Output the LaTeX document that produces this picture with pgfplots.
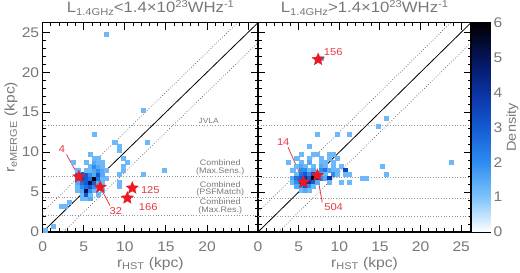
\documentclass[border=0pt]{standalone}
\usepackage{fontspec}
\setmainfont{Liberation Sans}[FakeStretch=1.12]
\usepackage{pgfplots}
\usepackage{pgfplotstable}
\pgfplotsset{compat=1.18}
\definecolor{txtgray}{RGB}{120,120,120}
\definecolor{linegray}{RGB}{150,150,150}
\definecolor{starred}{RGB}{235,25,35}
\definecolor{lblred}{RGB}{230,55,65}
\newcommand{\tsup}[1]{\raisebox{5bp}{\fontsize{10}{10}\selectfont #1}}
\newcommand{\tsub}[1]{\raisebox{-2.5bp}{\fontsize{10}{10}\selectfont #1}}

\pgfdeclareplotmark{fstar}{%
 \pgfpathmoveto{\pgfpointpolar{90}{\pgfplotmarksize}}%
 \pgfpathlineto{\pgfpointpolar{126}{0.45\pgfplotmarksize}}%
 \pgfpathlineto{\pgfpointpolar{162}{\pgfplotmarksize}}%
 \pgfpathlineto{\pgfpointpolar{198}{0.45\pgfplotmarksize}}%
 \pgfpathlineto{\pgfpointpolar{234}{\pgfplotmarksize}}%
 \pgfpathlineto{\pgfpointpolar{270}{0.45\pgfplotmarksize}}%
 \pgfpathlineto{\pgfpointpolar{306}{\pgfplotmarksize}}%
 \pgfpathlineto{\pgfpointpolar{342}{0.45\pgfplotmarksize}}%
 \pgfpathlineto{\pgfpointpolar{18}{\pgfplotmarksize}}%
 \pgfpathlineto{\pgfpointpolar{54}{0.45\pgfplotmarksize}}%
 \pgfpathclose
 \pgfusepathqfillstroke
}

\pgfplotsset{
 colormap={idl}{rgb255(0)=(255,255,255) rgb255(1)=(125,195,250) rgb255(2)=(45,140,240) rgb255(3)=(20,90,210) rgb255(4)=(10,50,160) rgb255(5)=(5,20,90) rgb255(6)=(0,0,0)},
 mypanel/.style={
  scale only axis, height=209.3bp,
  xmin=0, xmax=26.2, ymin=0, ymax=26.2,
  axis line style={line width=1.5bp},
  tick align=inside, major tick length=7bp, minor tick length=3.5bp,
  every tick/.style={black, line width=1bp},
  minor tick num=4,
  xtick={0,5,...,25}, ytick={0,5,...,25},
  /pgf/number format/assume math mode=true,
  tick label style={font=\fontsize{14}{14}\selectfont, text=txtgray},
  xticklabel style={yshift=-6bp},
  label style={font=\fontsize{14}{14}\selectfont, text=txtgray},
  xlabel={r\textsubscript{HST} (kpc)},
  xlabel style={at={(axis description cs:0.5,0)}, anchor=center, yshift=-32bp},
  title style={font=\fontsize{15}{15}\selectfont, text=txtgray, at={(axis description cs:0.5,1)}, anchor=base, inner sep=0pt, yshift=4bp},
  point meta min=0, point meta max=6,
  colormap name=idl,
 },
 mycells/.style={only marks, scatter, scatter src=\thisrow{c}, mark=square*, mark size=2.05bp,
  scatter/use mapped color={draw=mapped color, fill=mapped color}, mark options={line width=0.2pt}},
 myhline/.style={dotted, linegray, line width=0.7bp},
 mydline/.style={dotted, black!65, line width=0.7bp},
 mystars/.style={only marks, mark=fstar, mark size=6.5bp, color=starred, mark options={fill=starred, draw=starred, line width=0.3bp}},
 myann/.style={lblred, line width=0.8bp},
}

\pgfplotstableread{
x y c
0.25 0.25 1.2
1.25 0.75 1.2
2.25 3.25 1.2
2.75 3.25 1.2
3.25 3.75 1.2
4.75 4.25 1.2
5.25 4.25 1.2
5.75 4.25 1.5
4.75 4.75 1.2
5.25 4.75 3
5.75 4.75 1.2
6.75 4.75 1.2
4.25 5.25 1.2
4.75 5.25 1.5
5.25 5.25 5
5.75 5.25 2
6.25 5.25 1.2
7.25 5.25 1.2
4.25 5.75 1.2
4.75 5.75 2
5.25 5.75 2.5
5.75 5.75 3
6.25 5.75 2
6.75 5.75 1.5
9.25 5.75 1.2
4.25 6.25 1.5
4.75 6.25 2.5
5.25 6.25 3
5.75 6.25 5
6.25 6.25 3
6.75 6.25 1.5
7.25 6.25 1.2
9.25 6.25 1.2
4.25 6.75 2
4.75 6.75 3.5
5.25 6.75 3
5.75 6.75 2.5
6.25 6.75 6
6.75 6.75 2.5
7.25 6.75 1.2
7.75 6.75 1.2
4.25 7.25 2.5
4.75 7.25 3
5.25 7.25 3
5.75 7.25 2
6.25 7.25 1.5
6.75 7.25 3
7.25 7.25 1.5
9.25 7.25 1.2
12.25 7.25 1.2
4.25 7.75 1.2
5.25 7.75 1.2
5.75 7.75 1.2
6.25 7.75 1.5
6.75 7.75 2
7.25 7.75 1.5
7.75 7.75 1.2
9.75 7.75 1.2
14.75 7.75 1.2
5.75 8.25 1.2
6.25 8.25 2
6.75 8.25 1.5
7.25 8.25 1.2
9.75 8.25 1.2
3.75 8.75 1.2
5.25 8.75 1.2
6.25 8.75 1.5
6.75 8.75 1.2
7.25 8.75 1.2
10.25 8.75 1.2
6.25 9.25 1.2
6.75 9.25 1.2
9.75 9.25 1.2
5.75 9.75 1.2
9.25 10.25 1.2
9.25 10.75 1.2
8.75 11.25 1.2
12.75 11.25 1.2
6.25 12.25 1.2
12.25 15.25 1.2
7.75 24.75 1.2
}\lowtab

\pgfplotstableread{
x y c
7.75 21.75 1.2
7.25 12.25 1.2
9.75 12.25 1.2
11.25 12.25 1.2
14.75 13.25 1.2
15.75 14.25 1.2
23.75 8.75 1.2
15.25 8.25 1.2
15.75 7.25 1.2
12.75 6.75 1.2
13.25 6.75 1.2
6.25 10.75 1.2
5.25 9.75 1.2
6.75 9.75 1.2
7.25 9.75 1.2
8.75 9.75 1.2
9.25 9.75 1.2
4.75 9.25 1.2
6.25 9.25 1.2
7.75 9.25 1.2
8.75 9.25 1.2
9.75 9.25 1.2
3.75 8.75 1.2
5.25 8.75 1.2
6.25 8.75 1.5
7.75 8.75 1.2
8.25 8.75 1.2
9.25 8.75 1.2
4.75 8.25 1.2
5.25 8.25 1.5
5.75 8.25 1.2
6.75 8.25 1.2
7.75 8.25 1.5
8.25 8.25 1.2
9.25 8.25 1.2
10.25 8.25 1.2
4.25 7.75 1.2
5.25 7.75 2
5.75 7.75 2
6.25 7.75 1.2
6.75 7.75 1.5
7.75 7.75 2
8.25 7.75 2.5
8.75 7.75 1.5
9.25 7.75 1.2
9.75 7.75 1.2
10.75 7.75 3.5
4.75 7.25 1.2
5.25 7.25 2.5
5.75 7.25 3
6.25 7.25 2
6.75 7.25 3.5
7.25 7.25 2
7.75 7.25 1.5
8.25 7.25 1.2
9.25 7.25 2
9.75 7.25 1.2
10.75 7.25 1.2
11.25 7.25 1.2
4.25 6.75 1.5
4.75 6.75 2.5
5.25 6.75 3
5.75 6.75 4
6.25 6.75 3
6.75 6.75 6
7.25 6.75 4
7.75 6.75 2
8.25 6.75 1.5
8.75 6.75 4
4.25 6.25 1.2
4.75 6.25 2
5.25 6.25 3.5
5.75 6.25 5
6.25 6.25 4
6.75 6.25 3
7.25 6.25 1.5
8.75 6.25 1.2
10.25 6.25 1.2
11.25 6.25 1.2
4.75 5.75 1.5
5.25 5.75 2
5.75 5.75 3
6.25 5.75 2
6.75 5.75 1.2
5.25 5.25 1.2
5.75 5.25 1.5
6.25 5.25 1.2
}\hightab

\begin{document}
\begin{tikzpicture}
% ---------------- left panel ----------------
\begin{axis}[mypanel, at={(42.7bp,41bp)}, anchor=south west, width=215.3bp,
  xticklabels={0,5,10,15,20,{}},
  ylabel={r\textsubscript{eMERGE} (kpc)},
  ylabel style={at={(axis description cs:-0.147,0.5)}, anchor=center},
  title={L\tsub{1.4GHz}<1.4×10\tsup{23}WHz\tsup{-1}},
 ]
 \addplot[mycells] table[x=x, y=y] {\lowtab};
 \addplot[myhline] coordinates {(0,13.4) (26.2,13.4)};
 \addplot[myhline] coordinates {(0,7.0) (26.2,7.0)};
 \addplot[myhline] coordinates {(0,4.3) (26.2,4.3)};
 \addplot[myhline] coordinates {(0,2.1) (26.2,2.1)};
 \addplot[black, line width=0.8bp] coordinates {(0,0) (26.2,26.2)};
 \addplot[mydline] coordinates {(0,2.5) (23.7,26.2)};
 \addplot[mydline] coordinates {(2.5,0) (26.2,23.7)};
 \node[anchor=south, inner sep=1bp, text=txtgray, font=\fontsize{7.5}{7.5}\selectfont] at (axis cs:20.2,13.4) {JVLA};
 \node[anchor=south, align=center, inner sep=1bp, text=txtgray, font=\fontsize{8}{7.5}\selectfont] at (axis cs:21.6,7.0) {Combined\\(Max.Sens.)};
 \node[anchor=south, align=center, inner sep=1bp, text=txtgray, font=\fontsize{8}{7.5}\selectfont] at (axis cs:21.6,4.3) {Combined\\(PSFMatch)};
 \node[anchor=south, align=center, inner sep=1bp, text=txtgray, font=\fontsize{8}{7.5}\selectfont] at (axis cs:21.6,2.1) {Combined\\(Max.Res.)};
 \addplot[myann] coordinates {(2.9,9.7) (4.4,6.9)};
 \addplot[myann] coordinates {(7.0,5.6) (8.2,3.3)};
 \addplot[mystars] coordinates {(4.4,6.9) (7.0,5.6) (10.9,5.5) (10.3,4.25)};
 \node[text=lblred, font=\fontsize{10}{10}\selectfont] at (axis cs:2.35,10.4) {4};
 \node[text=lblred, font=\fontsize{10}{10}\selectfont] at (axis cs:8.9,2.6) {32};
 \node[text=lblred, font=\fontsize{10}{10}\selectfont] at (axis cs:13.1,5.25) {125};
 \node[text=lblred, font=\fontsize{10}{10}\selectfont] at (axis cs:12.85,3.1) {166};
\end{axis}
% ---------------- right panel ----------------
\begin{axis}[mypanel, at={(258bp,41bp)}, anchor=south west, width=213bp,
  yticklabels={},
  title={L\tsub{1.4GHz}>1.4×10\tsup{23}WHz\tsup{-1}},
 ]
 \addplot[mycells] table[x=x, y=y] {\hightab};
 \addplot[myhline] coordinates {(0,13.3) (26.2,13.3)};
 \addplot[myhline] coordinates {(0,6.9) (26.2,6.9)};
 \addplot[myhline] coordinates {(0,4.25) (26.2,4.25)};
 \addplot[myhline] coordinates {(0,1.9) (26.2,1.9)};
 \addplot[black, line width=0.8bp] coordinates {(0,0) (26.2,26.2)};
 \addplot[mydline] coordinates {(0,2.5) (23.7,26.2)};
 \addplot[mydline] coordinates {(2.5,0) (26.2,23.7)};
 \addplot[myann] coordinates {(3.7,10.6) (5.6,6.25)};
 \addplot[myann] coordinates {(7.3,7.1) (7.9,3.7)};
 \addplot[mystars] coordinates {(7.4,21.6) (5.6,6.25) (7.3,7.1)};
 \node[text=lblred, font=\fontsize{10}{10}\selectfont] at (axis cs:9.25,22.5) {156};
 \node[text=lblred, font=\fontsize{10}{10}\selectfont] at (axis cs:3.1,11.3) {14};
 \node[text=lblred, font=\fontsize{10}{10}\selectfont] at (axis cs:9.3,3.1) {504};
\end{axis}
% ---------------- colour bar ----------------
\begin{axis}[at={(472bp,41bp)}, anchor=south west, scale only axis,
  width=18bp, height=209.3bp,
  xmin=0, xmax=1, ymin=0, ymax=6,
  colormap name=idl, point meta min=0, point meta max=6,
  axis line style={line width=1.5bp},
  xtick=\empty, ytick={0,1,...,6}, minor y tick num=1,
  tick align=inside, major tick length=4bp, minor tick length=4bp,
  every tick/.style={black, line width=0.8bp},
  yticklabel pos=right,
  /pgf/number format/assume math mode=true,
  yticklabel style={font=\fontsize{14}{14}\selectfont, text=txtgray},
  ylabel={Density},
  ylabel style={font=\fontsize{13}{13}\selectfont, text=txtgray, at={(axis description cs:2.25,0.5)}, anchor=center, rotate=0},
 ]
 \addplot[surf, shader=interp, point meta=y, mesh/cols=2] coordinates {
  (0,0) (1,0)
  (0,1) (1,1)
  (0,2) (1,2)
  (0,3) (1,3)
  (0,4) (1,4)
  (0,5) (1,5)
  (0,6) (1,6)
 };
\end{axis}
\pgfresetboundingbox
\path[use as bounding box] (0,0) rectangle (520bp,273bp);
\end{tikzpicture}
\end{document}
